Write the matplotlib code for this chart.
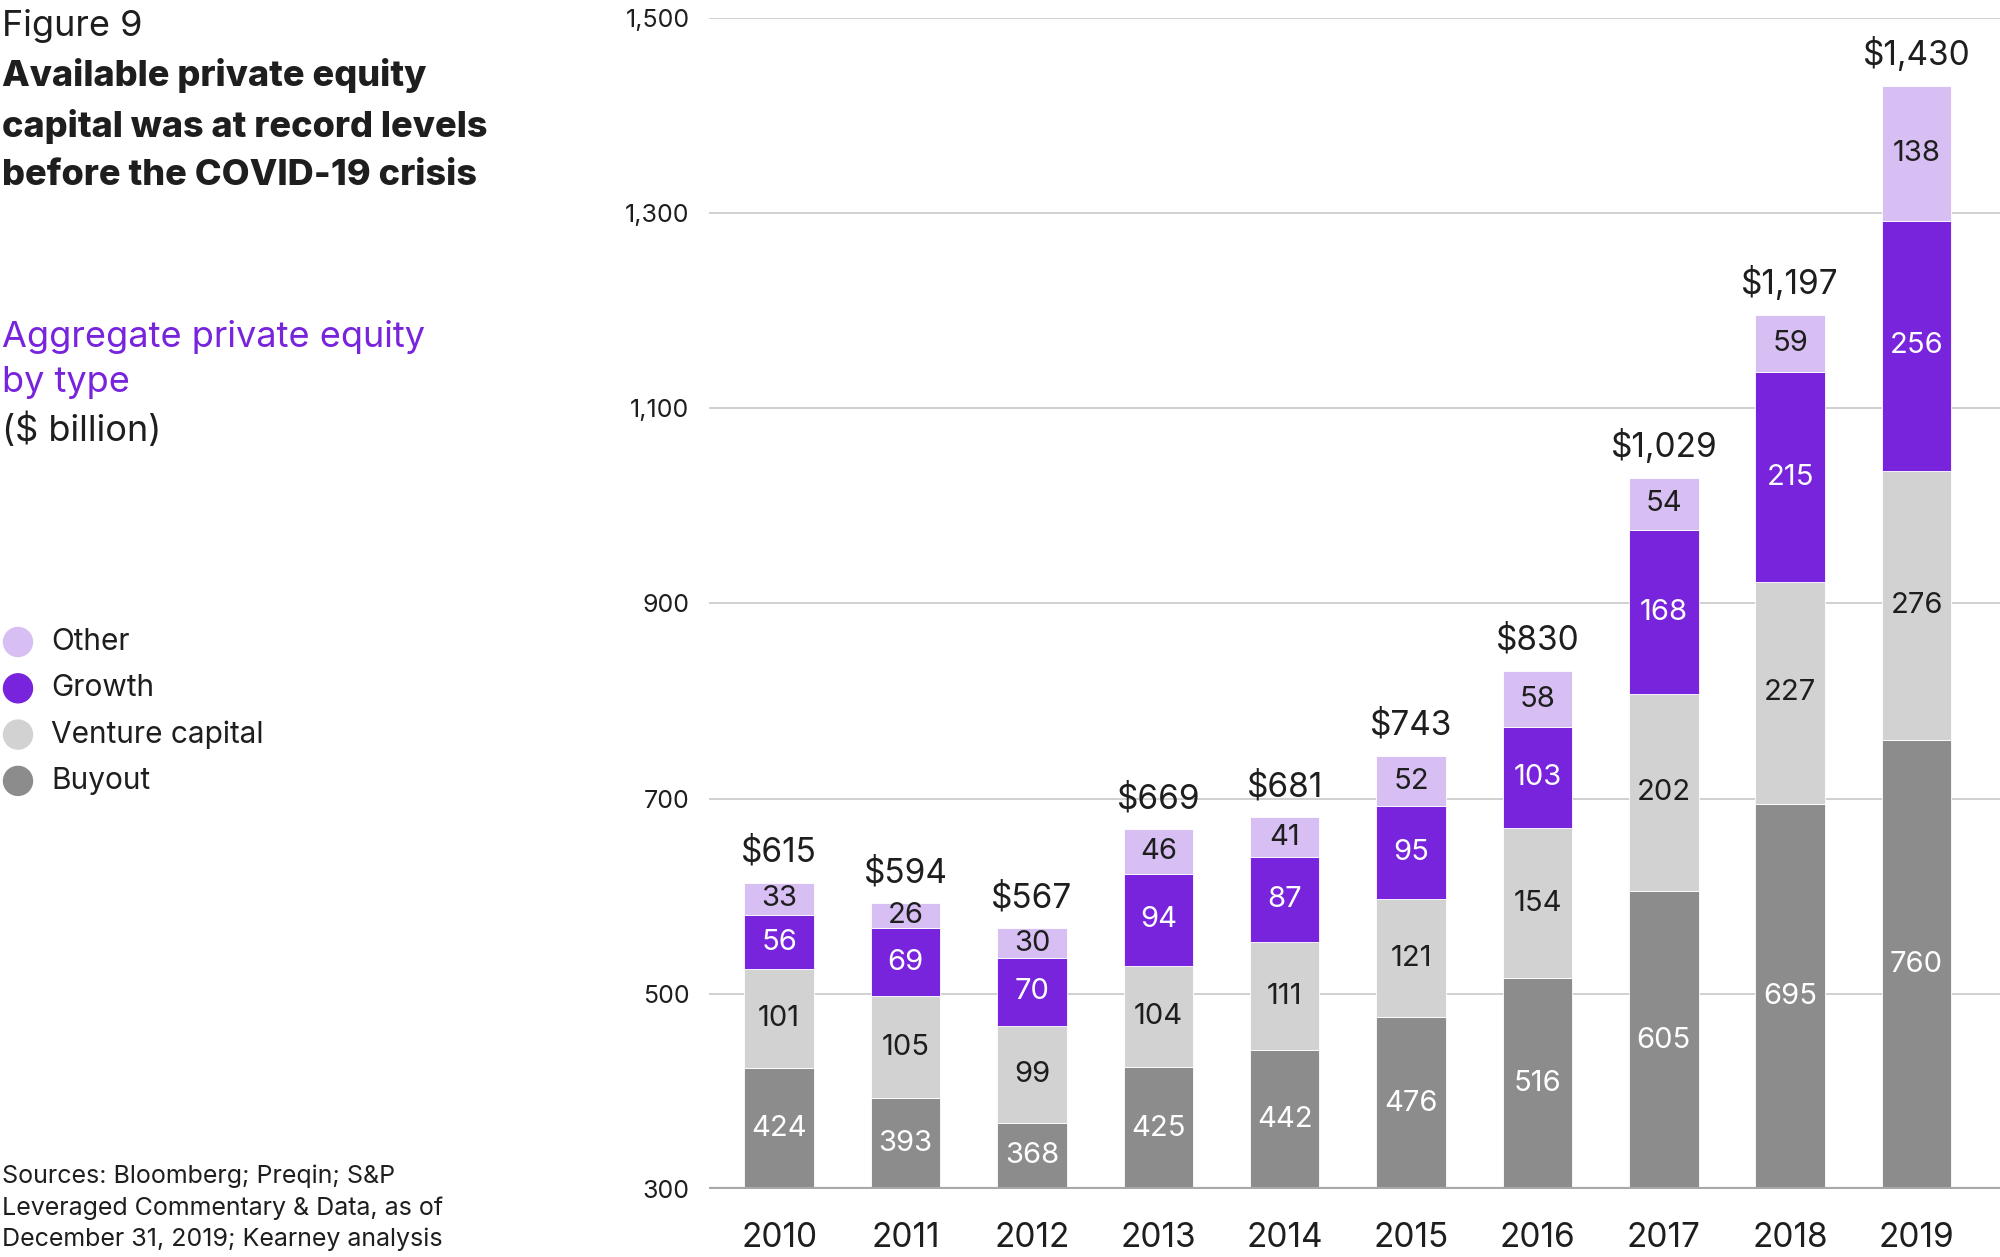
import numpy as np
import matplotlib
matplotlib.use('Agg')
import matplotlib.pyplot as plt

# Data ($ billion)
YEARS = ['2010', '2011', '2012', '2013', '2014', '2015', '2016', '2017', '2018', '2019']
BUYOUT = [424, 393, 368, 425, 442, 476, 516, 605, 695, 760]
VENTURE = [101, 105, 99, 104, 111, 121, 154, 202, 227, 276]
GROWTH = [56, 69, 70, 94, 87, 95, 103, 168, 215, 256]
OTHER = [33, 26, 30, 46, 41, 52, 58, 54, 59, 138]
TOTALS = [615, 594, 567, 669, 681, 743, 830, 1029, 1197, 1430]
Y_TICKS = [300, 500, 700, 900, 1100, 1300, 1500]
SERIES_NAMES = ['Other', 'Growth', 'Venture capital', 'Buyout']

# Style
COL_OTHER = '#d7bff3'
COL_GROWTH = '#7823dc'
COL_VC = '#d2d2d2'
COL_BUYOUT = '#8c8c8c'
TEXT_DARK = '#1e1e1e'
FONT = ['Inter', 'DejaVu Sans']

plt.rcParams['font.family'] = FONT

W, H = 2000, 1257
fig = plt.figure(figsize=(W / 100, H / 100), dpi=100)


def fx(px):
    return px / W


def fy(py):
    return 1 - py / H


y_min, y_max = 300, 1500
ax = fig.add_axes([fx(709), fy(1189), fx(2000) - fx(709), fy(18) - fy(1189)])
ax.set_ylim(y_min, y_max)
ax.set_xlim(-0.555, 9.66)

x = np.arange(len(YEARS))
width = 0.55
stack = [(BUYOUT, COL_BUYOUT, 'white'),
         (VENTURE, COL_VC, TEXT_DARK),
         (GROWTH, COL_GROWTH, 'white'),
         (OTHER, COL_OTHER, TEXT_DARK)]

bottom = np.zeros(len(YEARS))
for vals, col, tcol in stack:
    vals = np.array(vals)
    ax.bar(x, vals, width, bottom=bottom, color=col, edgecolor='white',
           linewidth=0.6, zorder=3)
    for xi, b, v in zip(x, bottom, vals):
        lo = max(b, y_min)
        mid = (lo + b + v) / 2
        ax.text(xi, mid, str(v), ha='center', va='center', fontsize=21,
                color=tcol, zorder=4)
    bottom = bottom + vals

for xi, top, tot in zip(x, bottom, TOTALS):
    ax.annotate(f'${tot:,}', (xi, top), xytext=(0, 10), textcoords='offset points',
                ha='center', va='bottom', fontsize=24, color=TEXT_DARK)

ax.set_yticks(Y_TICKS)
ax.set_yticklabels([f'{t:,}' for t in Y_TICKS], fontsize=18, color=TEXT_DARK)
ax.set_xticks(x)
ax.set_xticklabels(YEARS, fontsize=24, color=TEXT_DARK)
ax.tick_params(axis='y', length=0, pad=14)
ax.tick_params(axis='x', length=0, pad=24)
for sp in ax.spines.values():
    sp.set_visible(False)
ax.grid(axis='y', color='#c8c8c8', linewidth=1.2, zorder=0)
ax.set_axisbelow(True)
ax.axhline(y_min, color='#a8a8a8', linewidth=3, zorder=5)

# Left-side texts
fig.text(fx(2), fy(36), 'Figure 9', fontsize=26, color=TEXT_DARK, va='baseline')
fig.text(fx(2), fy(185), 'Available private equity\ncapital was at record levels\nbefore the COVID-19 crisis',
         fontsize=26, fontweight='heavy', color=TEXT_DARK, va='baseline', linespacing=1.58)
fig.text(fx(2), fy(392), 'Aggregate private equity\nby type', fontsize=26, color=COL_GROWTH,
         va='baseline', linespacing=1.45)
fig.text(fx(2), fy(441), '($ billion)', fontsize=26, color=TEXT_DARK, va='baseline')

legend_cols = [COL_OTHER, COL_GROWTH, COL_VC, COL_BUYOUT]
for i, (name, col) in enumerate(zip(SERIES_NAMES, legend_cols)):
    yy = 642 + i * 46.3
    fig.patches.append(matplotlib.patches.Ellipse((fx(18), fy(yy)), fx(29), 29 / H,
                                                  transform=fig.transFigure, color=col))
    fig.text(fx(51), fy(yy), name, fontsize=21.5, color=TEXT_DARK, va='center')

fig.text(fx(2), fy(1246), 'Sources: Bloomberg; Preqin; S&P\nLeveraged Commentary & Data, as of\nDecember 31, 2019; Kearney analysis',
         fontsize=18, color=TEXT_DARK, va='baseline', linespacing=1.42)

fig.savefig('out.png', dpi=100)
